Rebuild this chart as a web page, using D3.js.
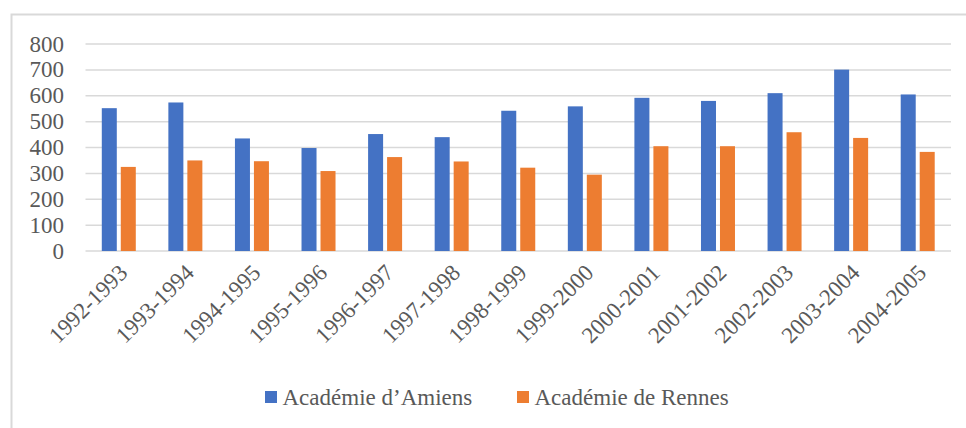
<!DOCTYPE html>
<html>
<head>
<script src="https://cdn.jsdelivr.net/npm/d3@7"></script>
<style>
  body { margin: 0; font-family: "Liberation Serif", "Times New Roman", serif; }
  svg text { font-family: "Liberation Serif", "Times New Roman", serif !important; }
</style>
</head>
<body>
<script>
const years = ['1992-1993', '1993-1994', '1994-1995', '1995-1996', '1996-1997', '1997-1998',
  '1998-1999', '1999-2000', '2000-2001', '2001-2002', '2002-2003', '2003-2004', '2004-2005'];
const amiens = [552, 574, 435, 398, 452, 440, 542, 559, 592, 580, 610, 701, 605];
const rennes = [325, 350, 347, 309, 363, 346, 322, 295, 405, 405, 459, 437, 383];
const seriesNames = ['Académie d’Amiens', 'Académie de Rennes'];
const colors = ['#4472C4', '#ED7D31'];
const yTicks = [0, 100, 200, 300, 400, 500, 600, 700, 800];

const width = 966;
const height = 428;
const font = '"Liberation Serif"';

const svg = d3.select('body')
  .append('svg')
  .attr('width', width)
  .attr('height', height)
  .attr('font-family', font);

// chart frame (only left and top edges fall inside the picture)
svg.append('rect')
  .attr('x', 11.5)
  .attr('y', 14.5)
  .attr('width', 980)
  .attr('height', 440)
  .attr('fill', 'none')
  .attr('stroke', '#d9d9d9')
  .attr('stroke-width', 2);

const x0 = d3.scaleBand()
  .domain(years)
  .range([85.5, 951]);

const x1 = d3.scaleBand()
  .domain([0, 1])
  .range([0, 34])
  .paddingInner(0.21);

const y = d3.scaleLinear()
  .domain([0, 800])
  .range([251, 44]);

// gridlines
svg.append('g')
  .selectAll('line')
  .data(yTicks)
  .join('line')
  .attr('x1', 85.5)
  .attr('x2', 951)
  .attr('y1', d => y(d))
  .attr('y2', d => y(d))
  .attr('stroke', '#d9d9d9')
  .attr('stroke-width', 1.5);

// y labels
svg.append('g')
  .selectAll('text')
  .data(yTicks)
  .join('text')
  .attr('x', 64)
  .attr('y', d => y(d))
  .attr('dy', '0.33em')
  .attr('text-anchor', 'end')
  .style('font', `23px ${font}`)
  .style('fill', '#595959')
  .text(d => d);

// bars
const groups = svg.append('g')
  .selectAll('g')
  .data(years)
  .join('g')
  .attr('transform', d => `translate(${x0(d) + x0.bandwidth() / 2 - 17},0)`);

groups.selectAll('rect')
  .data((d, i) => [amiens[i], rennes[i]])
  .join('rect')
  .attr('x', (d, j) => x1(j))
  .attr('width', x1.bandwidth())
  .attr('y', d => y(d))
  .attr('height', d => y(0) - y(d))
  .attr('fill', (d, j) => colors[j]);

// x labels
svg.append('g')
  .selectAll('text')
  .data(years)
  .join('text')
  .attr('transform', d => `translate(${x0(d) + x0.bandwidth() / 2 + 10},274) rotate(-45)`)
  .attr('text-anchor', 'end')
  .style('font', `23px ${font}`)
  .style('fill', '#595959')
  .text(d => d);

// legend
const legendX = [265, 517];
const legend = svg.append('g')
  .selectAll('g')
  .data(seriesNames)
  .join('g')
  .attr('transform', (d, i) => `translate(${legendX[i]},391)`);

legend.append('rect')
  .attr('width', 12)
  .attr('height', 12)
  .attr('fill', (d, i) => colors[i]);

legend.append('text')
  .attr('x', 17.5)
  .attr('y', 14)
  .style('font', `23px ${font}`)
  .style('fill', '#595959')
  .text(d => d);
</script>
</body>
</html>
